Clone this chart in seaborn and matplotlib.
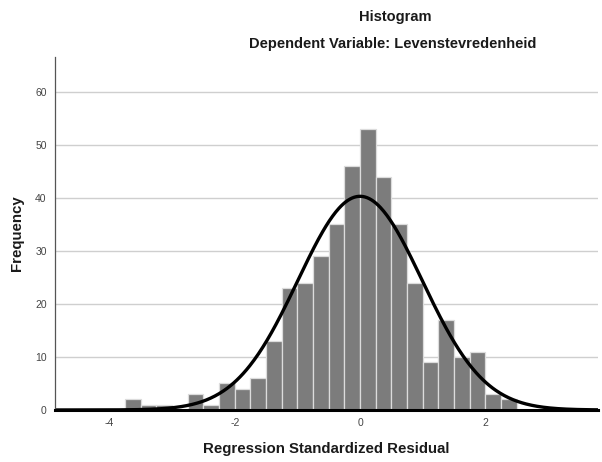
import numpy as np
import pandas as pd
import matplotlib
matplotlib.use("Agg")
import matplotlib.pyplot as plt
import seaborn as sns

# Histogram of regression standardized residuals (bin width 0.25)
bin_left = [-3.75, -3.5, -3.25, -3.0, -2.75, -2.5, -2.25, -2.0, -1.75, -1.5,
            -1.25, -1.0, -0.75, -0.5, -0.25, 0.0, 0.25, 0.5, 0.75, 1.0,
            1.25, 1.5, 1.75, 2.0, 2.25]
counts = [2, 1, 1, 0, 3, 1, 5, 4, 6, 13,
          23, 24, 29, 35, 46, 53, 44, 35, 24, 9,
          17, 10, 11, 3, 2]
bin_width = 0.25

# Normal curve parameters
resid_mean = 0.0
resid_std = 0.992
n_obs = sum(counts)

x_ticks = [-4, -2, 0, 2]
y_ticks = [0, 10, 20, 30, 40, 50, 60]

sns.set_theme(style="white")
plt.rcParams["font.family"] = ["Liberation Sans", "DejaVu Sans"]

fig = plt.figure(figsize=(6.02, 4.62), dpi=100)
ax = fig.add_axes([0.0914, 0.1126, 0.902, 0.764])

edges = list(bin_left) + [bin_left[-1] + bin_width]
centers = [b + bin_width / 2 for b in bin_left]
df = pd.DataFrame({"residual": centers, "count": counts})

ax.set_axisbelow(True)
ax.yaxis.grid(True, color="#cfcfcf", linewidth=1.0)
ax.xaxis.grid(False)

sns.histplot(data=df, x="residual", weights="count", bins=edges,
             color="#7c7c7c", edgecolor="#dcdcdc", linewidth=0.9,
             alpha=1.0, ax=ax)

xs = np.linspace(-4.87, 3.80, 500)
ys = n_obs * bin_width * np.exp(-0.5 * ((xs - resid_mean) / resid_std) ** 2) / (resid_std * np.sqrt(2 * np.pi))
sns.lineplot(x=xs, y=ys, color="black", linewidth=2.4, ax=ax)

ax.set_xlim(-4.87, 3.80)
ax.set_ylim(0, 66.6)
ax.set_xticks(x_ticks)
ax.set_xticklabels([str(t) for t in x_ticks])
ax.set_yticks(y_ticks)
ax.set_yticklabels([str(t) for t in y_ticks])
ax.tick_params(axis="both", length=0, labelsize=7.5, labelcolor="#444444", pad=6)

for side in ("top", "right"):
    ax.spines[side].set_visible(False)
ax.spines["left"].set_color("#555555")
ax.spines["left"].set_linewidth(0.9)
ax.spines["bottom"].set_color("black")
ax.spines["bottom"].set_linewidth(2.2)

ax.set_xlabel("Regression Standardized Residual", fontsize=10.8, fontweight="bold",
              color="#1a1a1a", labelpad=10)
ax.set_ylabel("Frequency", fontsize=10.8, fontweight="bold", color="#1a1a1a", labelpad=8)

fig.text(395 / 602, 1 - 17 / 462, "Histogram", ha="center", va="center",
         fontsize=10.5, fontweight="bold", color="#1a1a1a")
fig.text(393 / 602, 1 - 44 / 462, "Dependent Variable: Levenstevredenheid",
         ha="center", va="center", fontsize=10.5, fontweight="bold", color="#1a1a1a")

fig.savefig("out.png", dpi=100)
